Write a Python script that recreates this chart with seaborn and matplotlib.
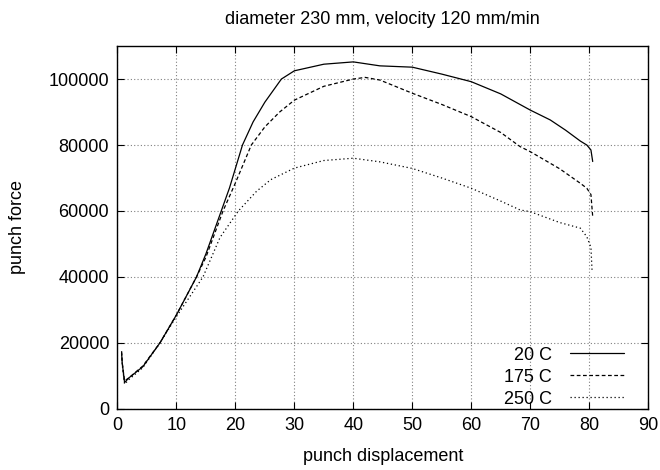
import matplotlib
matplotlib.use("Agg")
import numpy as np
import pandas as pd
import matplotlib.pyplot as plt
import seaborn as sns

# punch displacement / punch force
x_20 = [0.7, 0.8, 1.2, 2, 4.3, 7.2, 10, 13.4, 15, 17.6, 19, 21.2, 23, 25, 27.8,
        30, 35, 40, 44.5, 50, 55, 60, 65, 70, 73.4, 76, 78.5, 79.6, 80.3, 80.6]
y_20 = [17000, 14000, 8000, 9500, 12800, 20000, 28500, 40000, 47000, 60000,
        67000, 80000, 87000, 93000, 100000, 102500, 104500, 105200, 104000,
        103600, 101500, 99200, 95500, 90600, 87600, 84500, 81200, 80000, 78500, 75000]

x_175 = [0.7, 0.8, 1.2, 2, 4.3, 7.2, 10, 13.4, 15, 17.9, 20, 22.7, 25, 27.5, 30,
         35, 40, 42, 44.5, 50, 55, 60, 65, 68.3, 70, 75, 78.5, 79.6, 80.3, 80.6]
y_175 = [17500, 14000, 8500, 9500, 13000, 20000, 28500, 40000, 46000, 60000,
         68500, 80000, 85500, 90000, 93600, 97800, 100000, 100500, 99700, 95700,
         92300, 88600, 83800, 79500, 78000, 72800, 68400, 66900, 65000, 58300]

x_250 = [0.7, 0.8, 1.2, 2, 4.3, 7.2, 10, 14.5, 17.4, 20.5, 23.6, 26, 30, 35, 40,
         44.5, 50, 55, 60, 65, 68.3, 70, 75, 78.5, 79.6, 80.3, 80.5]
y_250 = [16500, 13500, 7500, 9000, 12500, 20000, 28000, 40000, 52000, 60000,
         66000, 69500, 73000, 75300, 76000, 74900, 72900, 70000, 66900, 63000,
         60300, 59800, 56500, 54800, 52200, 49000, 41600]

labels = ["20 C", "175 C", "250 C"]
x_ticks = list(range(0, 100, 10))
y_ticks = list(range(0, 120000, 20000))

sns.set_style("ticks")
plt.rcParams["font.family"] = ["Liberation Sans", "DejaVu Sans"]
plt.rcParams["text.color"] = "black"
plt.rcParams["axes.labelcolor"] = "black"

fig = plt.figure(figsize=(6.6, 4.7), dpi=100)
ax = fig.add_axes([0.178, 0.13, 0.804, 0.772])

series = [(x_20, y_20, None), (x_175, y_175, (3, 2)), (x_250, y_250, (1, 2.2))]
for (xs, ys, dash), lab in zip(series, labels):
    df = pd.DataFrame({"x": xs, "y": ys})
    kw = {}
    if dash is not None:
        kw["dashes"] = dash
    sns.lineplot(data=df, x="x", y="y", ax=ax, color="black", linewidth=0.9,
                 label=lab, sort=False, estimator=None, **kw)

ax.set_xlim(0, 90)
ax.set_ylim(0, 110000)
ax.set_xticks(x_ticks)
ax.set_yticks(y_ticks)
ax.tick_params(direction="in", length=5, width=0.8, top=True, right=True,
               labelsize=13, colors="black", pad=6)
ax.grid(True, linestyle=(0, (1, 2)), color="#808080", linewidth=0.8)
for s in ax.spines.values():
    s.set_linewidth(1.0)
    s.set_color("black")

ax.set_xlabel("punch displacement", fontsize=13, labelpad=10)
ax.set_ylabel("punch force", fontsize=13, labelpad=16)
ax.set_title("diameter 230 mm, velocity 120 mm/min", fontsize=13, pad=16)

leg = ax.legend(loc="lower right", bbox_to_anchor=(0.974, -0.024), frameon=False,
                markerfirst=False, fontsize=13, handlelength=3.0,
                handletextpad=1.0, labelspacing=0.28, borderaxespad=0.15)
for t in leg.get_texts():
    t.set_ha("right")
leg._legend_box.align = "right"

fig.savefig("out.png", dpi=100)
